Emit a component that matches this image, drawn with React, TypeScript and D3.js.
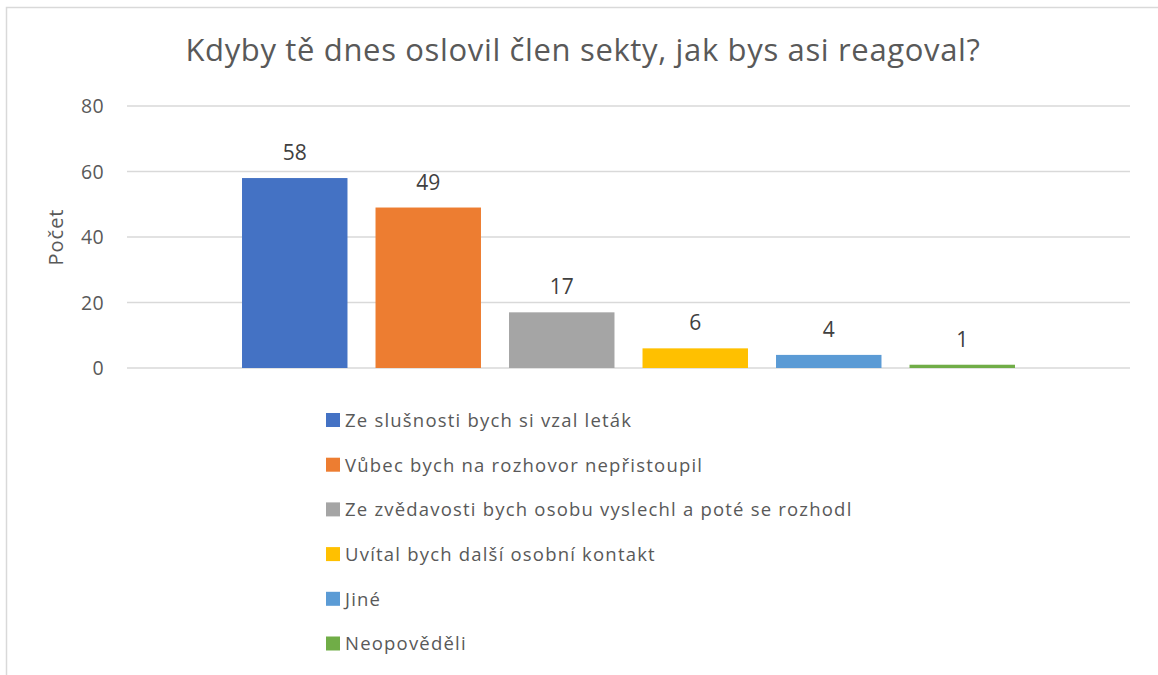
import React from "react";
import * as d3 from "d3";

const title = "Kdyby tě dnes oslovil člen sekty, jak bys asi reagoval?";
const yAxisLabel = "Počet";
const seriesNames = [
  "Ze slušnosti bych si vzal leták",
  "Vůbec bych na rozhovor nepřistoupil",
  "Ze zvědavosti bych osobu vyslechl a poté se rozhodl",
  "Uvítal bych další osobní kontakt",
  "Jiné",
  "Neopověděli",
];
const seriesValues = [58, 49, 17, 6, 4, 1];
const seriesColors = ["#4472C4", "#ED7D31", "#A5A5A5", "#FFC000", "#5B9BD5", "#70AD47"];
const yTicks = [0, 20, 40, 60, 80];
const categories = ["Odpovědi"];

const W = 1158;
const H = 675;
const FONT = "'Open Sans', Lato, sans-serif";
const TXT = "#595959";

export default function App() {
  const plotL = 127;
  const plotR = 1130;
  const plotT = 106;
  const plotB = 368;

  const y = d3.scaleLinear().domain([0, 80]).range([plotB, plotT]);
  const xCat = d3
    .scaleBand<string>()
    .domain(categories)
    .range([plotL, plotR])
    .paddingInner(0)
    .paddingOuter(0.1488);
  const x = d3
    .scaleBand<string>()
    .domain(seriesNames)
    .range([xCat(categories[0])!, xCat(categories[0])! + xCat.bandwidth()])
    .paddingInner(0.21)
    .paddingOuter(0);

  const legendX = 326;
  const legendY0 = 420.5;
  const legendStep = 44.7;

  return (
    <svg
      width={W}
      height={H}
      style={{ position: "absolute", left: 0, top: 0, background: "#fff" }}
      fontFamily={FONT}
    >
      <rect x={6.5} y={7.5} width={W + 10} height={H + 10} fill="#fff" stroke="#D9D9D9" strokeWidth={1.5} />
      <text x={583} y={61} textAnchor="middle" fontSize={31} letterSpacing={0.65} fill={TXT}>
        {title}
      </text>
      {yTicks.map((t) => (
        <g key={t}>
          <line x1={plotL} x2={plotR} y1={y(t)} y2={y(t)} stroke="#D9D9D9" strokeWidth={1.5} />
          <text x={104} y={y(t)} dy="0.36em" textAnchor="end" fontSize={19.5} letterSpacing={0.3} fill={TXT}>
            {t}
          </text>
        </g>
      ))}
      <text
        transform={`translate(63, ${(plotT + plotB) / 2}) rotate(-90)`}
        textAnchor="middle"
        fontSize={20}
        letterSpacing={1}
        fill={TXT}
      >
        {yAxisLabel}
      </text>
      {seriesNames.map((s, i) => (
        <g key={s}>
          <rect
            x={x(s)}
            y={y(seriesValues[i])}
            width={x.bandwidth()}
            height={y(0) - y(seriesValues[i])}
            fill={seriesColors[i]}
          />
          <text
            x={x(s)! + x.bandwidth() / 2}
            y={y(seriesValues[i]) - 18}
            textAnchor="middle"
            fontSize={21}
            fill="#404040"
          >
            {seriesValues[i]}
          </text>
        </g>
      ))}
      {seriesNames.map((s, i) => (
        <g key={"lg" + s} transform={`translate(${legendX}, ${legendY0 + i * legendStep})`}>
          <rect x={0} y={-7.5} width={14} height={14} fill={seriesColors[i]} />
          <text x={19} y={0} dy="0.35em" fontSize={18.5} letterSpacing={1.2} fill={TXT}>
            {s}
          </text>
        </g>
      ))}
    </svg>
  );
}
